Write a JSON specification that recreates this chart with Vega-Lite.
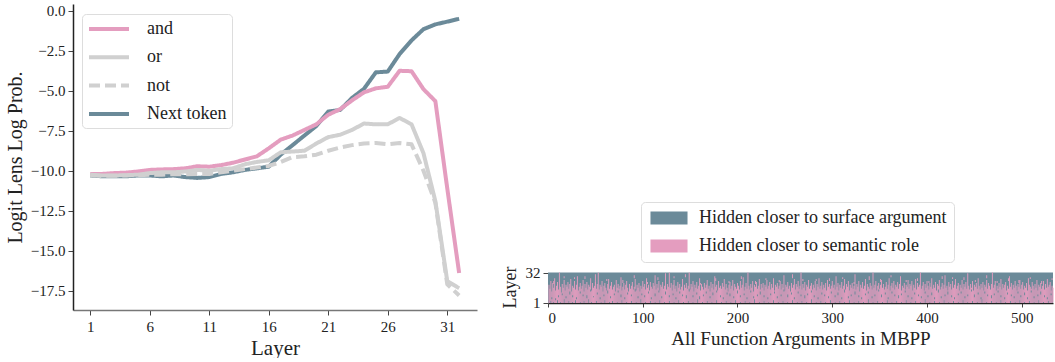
{
  "$schema": "https://vega.github.io/schema/vega-lite/v6.json",
  "background": "white",
  "padding": {"left": 5, "top": 3, "right": 0, "bottom": 0},
  "spacing": 24,
  "config": {
    "font": "Liberation Serif",
    "view": {"stroke": null},
    "axis": {"labelFont": "Liberation Serif", "titleFont": "Liberation Serif", "grid": false, "labelColor": "#222", "titleColor": "#222", "titleFontWeight": "normal", "tickColor": "#444"}
  },
  "resolve": {"scale": {"color": "independent"}, "legend": {"color": "independent"}},
  "datasets": {
    "lines": [
      {"layer":1,"s":"Next token","v":-10.3},{"layer":2,"s":"Next token","v":-10.35},{"layer":3,"s":"Next token","v":-10.35},{"layer":4,"s":"Next token","v":-10.35},{"layer":5,"s":"Next token","v":-10.3},{"layer":6,"s":"Next token","v":-10.3},{"layer":7,"s":"Next token","v":-10.35},{"layer":8,"s":"Next token","v":-10.3},{"layer":9,"s":"Next token","v":-10.4},{"layer":10,"s":"Next token","v":-10.45},{"layer":11,"s":"Next token","v":-10.4},{"layer":12,"s":"Next token","v":-10.2},{"layer":13,"s":"Next token","v":-10.1},{"layer":14,"s":"Next token","v":-9.95},{"layer":15,"s":"Next token","v":-9.85},{"layer":16,"s":"Next token","v":-9.75},{"layer":17,"s":"Next token","v":-9.0},{"layer":18,"s":"Next token","v":-8.4},{"layer":19,"s":"Next token","v":-7.8},{"layer":20,"s":"Next token","v":-7.2},{"layer":21,"s":"Next token","v":-6.3},{"layer":22,"s":"Next token","v":-6.2},{"layer":23,"s":"Next token","v":-5.45},{"layer":24,"s":"Next token","v":-4.88},{"layer":25,"s":"Next token","v":-3.85},{"layer":26,"s":"Next token","v":-3.8},{"layer":27,"s":"Next token","v":-2.7},{"layer":28,"s":"Next token","v":-1.85},{"layer":29,"s":"Next token","v":-1.15},{"layer":30,"s":"Next token","v":-0.85},{"layer":31,"s":"Next token","v":-0.68},{"layer":32,"s":"Next token","v":-0.5},
      {"layer":1,"s":"and","v":-10.2},{"layer":2,"s":"and","v":-10.2},{"layer":3,"s":"and","v":-10.15},{"layer":4,"s":"and","v":-10.12},{"layer":5,"s":"and","v":-10.05},{"layer":6,"s":"and","v":-9.95},{"layer":7,"s":"and","v":-9.92},{"layer":8,"s":"and","v":-9.9},{"layer":9,"s":"and","v":-9.85},{"layer":10,"s":"and","v":-9.72},{"layer":11,"s":"and","v":-9.75},{"layer":12,"s":"and","v":-9.65},{"layer":13,"s":"and","v":-9.5},{"layer":14,"s":"and","v":-9.3},{"layer":15,"s":"and","v":-9.1},{"layer":16,"s":"and","v":-8.6},{"layer":17,"s":"and","v":-8.06},{"layer":18,"s":"and","v":-7.8},{"layer":19,"s":"and","v":-7.45},{"layer":20,"s":"and","v":-7.1},{"layer":21,"s":"and","v":-6.5},{"layer":22,"s":"and","v":-6.15},{"layer":23,"s":"and","v":-5.6},{"layer":24,"s":"and","v":-5.1},{"layer":25,"s":"and","v":-4.85},{"layer":26,"s":"and","v":-4.75},{"layer":27,"s":"and","v":-3.75},{"layer":28,"s":"and","v":-3.78},{"layer":29,"s":"and","v":-4.9},{"layer":30,"s":"and","v":-5.65},{"layer":31,"s":"and","v":-11.1},{"layer":32,"s":"and","v":-16.4},
      {"layer":1,"s":"or","v":-10.25},{"layer":2,"s":"or","v":-10.3},{"layer":3,"s":"or","v":-10.3},{"layer":4,"s":"or","v":-10.28},{"layer":5,"s":"or","v":-10.25},{"layer":6,"s":"or","v":-10.15},{"layer":7,"s":"or","v":-10.1},{"layer":8,"s":"or","v":-10.1},{"layer":9,"s":"or","v":-10.05},{"layer":10,"s":"or","v":-9.95},{"layer":11,"s":"or","v":-10.0},{"layer":12,"s":"or","v":-9.9},{"layer":13,"s":"or","v":-9.85},{"layer":14,"s":"or","v":-9.6},{"layer":15,"s":"or","v":-9.45},{"layer":16,"s":"or","v":-9.35},{"layer":17,"s":"or","v":-8.85},{"layer":18,"s":"or","v":-8.8},{"layer":19,"s":"or","v":-8.75},{"layer":20,"s":"or","v":-8.3},{"layer":21,"s":"or","v":-7.9},{"layer":22,"s":"or","v":-7.75},{"layer":23,"s":"or","v":-7.45},{"layer":24,"s":"or","v":-7.05},{"layer":25,"s":"or","v":-7.1},{"layer":26,"s":"or","v":-7.1},{"layer":27,"s":"or","v":-6.7},{"layer":28,"s":"or","v":-7.1},{"layer":29,"s":"or","v":-8.9},{"layer":30,"s":"or","v":-11.9},{"layer":31,"s":"or","v":-16.9},{"layer":32,"s":"or","v":-17.35},
      {"layer":1,"s":"not","v":-10.3},{"layer":2,"s":"not","v":-10.32},{"layer":3,"s":"not","v":-10.32},{"layer":4,"s":"not","v":-10.3},{"layer":5,"s":"not","v":-10.28},{"layer":6,"s":"not","v":-10.25},{"layer":7,"s":"not","v":-10.25},{"layer":8,"s":"not","v":-10.22},{"layer":9,"s":"not","v":-10.22},{"layer":10,"s":"not","v":-10.2},{"layer":11,"s":"not","v":-10.2},{"layer":12,"s":"not","v":-10.1},{"layer":13,"s":"not","v":-10.0},{"layer":14,"s":"not","v":-9.9},{"layer":15,"s":"not","v":-9.8},{"layer":16,"s":"not","v":-9.7},{"layer":17,"s":"not","v":-9.46},{"layer":18,"s":"not","v":-9.15},{"layer":19,"s":"not","v":-9.1},{"layer":20,"s":"not","v":-9.0},{"layer":21,"s":"not","v":-8.75},{"layer":22,"s":"not","v":-8.55},{"layer":23,"s":"not","v":-8.4},{"layer":24,"s":"not","v":-8.3},{"layer":25,"s":"not","v":-8.27},{"layer":26,"s":"not","v":-8.35},{"layer":27,"s":"not","v":-8.27},{"layer":28,"s":"not","v":-8.35},{"layer":29,"s":"not","v":-10.0},{"layer":30,"s":"not","v":-12.0},{"layer":31,"s":"not","v":-17.1},{"layer":32,"s":"not","v":-17.8}
    ],
    "bg": [{"a0":0,"a1":533,"l0":0,"l1":32}],
    "sem": [
      {"a":0,"l":0,"h":19},{"a":1,"l":0,"h":15},{"a":2,"l":2,"h":23},{"a":3,"l":0,"h":12},{"a":4,"l":0,"h":21},{"a":5,"l":1,"h":16},{"a":6,"l":0,"h":26},{"a":7,"l":0,"h":13},{"a":8,"l":0,"h":18},{"a":9,"l":3,"h":22},
      {"a":10,"l":0,"h":14},{"a":11,"l":0,"h":32},{"a":12,"l":1,"h":17},{"a":13,"l":0,"h":11},{"a":14,"l":0,"h":20},{"a":15,"l":0,"h":16},{"a":16,"l":4,"h":24},{"a":17,"l":0,"h":13},{"a":18,"l":0,"h":19},{"a":19,"l":0,"h":17},
      {"a":20,"l":0,"h":22},{"a":21,"l":2,"h":15},{"a":22,"l":0,"h":20},{"a":23,"l":0,"h":25},{"a":24,"l":0,"h":12},{"a":25,"l":1,"h":18},{"a":26,"l":0,"h":16},{"a":27,"l":0,"h":23},{"a":28,"l":3,"h":14},{"a":29,"l":0,"h":19},
      {"a":30,"l":0,"h":28},{"a":31,"l":0,"h":13},{"a":32,"l":0,"h":17},{"a":33,"l":1,"h":21},{"a":34,"l":0,"h":15},{"a":35,"l":0,"h":18},{"a":36,"l":0,"h":24},{"a":37,"l":2,"h":12},{"a":38,"l":0,"h":20},{"a":39,"l":0,"h":16},
      {"a":40,"l":0,"h":22},{"a":41,"l":0,"h":14},{"a":42,"l":4,"h":19},{"a":43,"l":0,"h":17},{"a":44,"l":0,"h":26},{"a":45,"l":1,"h":13},{"a":46,"l":0,"h":21},{"a":47,"l":0,"h":16},{"a":48,"l":0,"h":18},{"a":49,"l":0,"h":30},
      {"a":50,"l":2,"h":15},{"a":51,"l":0,"h":20},{"a":52,"l":0,"h":32},{"a":53,"l":0,"h":14},{"a":54,"l":0,"h":19},{"a":55,"l":1,"h":17},{"a":56,"l":0,"h":23},{"a":57,"l":0,"h":12},{"a":58,"l":0,"h":18},{"a":59,"l":3,"h":21},
      {"a":60,"l":0,"h":16},{"a":61,"l":0,"h":13},{"a":62,"l":0,"h":20},{"a":63,"l":0,"h":25},{"a":64,"l":1,"h":15},{"a":65,"l":0,"h":18},{"a":66,"l":0,"h":22},{"a":67,"l":2,"h":14},{"a":68,"l":0,"h":17},{"a":69,"l":0,"h":19},
      {"a":70,"l":0,"h":12},{"a":71,"l":0,"h":24},{"a":72,"l":1,"h":16},{"a":73,"l":0,"h":20},{"a":74,"l":0,"h":15},{"a":75,"l":0,"h":18},{"a":76,"l":0,"h":27},{"a":77,"l":3,"h":13},{"a":78,"l":0,"h":17},{"a":79,"l":0,"h":21},
      {"a":80,"l":0,"h":14},{"a":81,"l":0,"h":19},{"a":82,"l":1,"h":23},{"a":83,"l":0,"h":16},{"a":84,"l":0,"h":12},{"a":85,"l":0,"h":20},{"a":86,"l":0,"h":15},{"a":87,"l":2,"h":18},{"a":88,"l":0,"h":22},{"a":89,"l":0,"h":14},
      {"a":90,"l":0,"h":17},{"a":91,"l":0,"h":25},{"a":92,"l":1,"h":13},{"a":93,"l":0,"h":19},{"a":94,"l":0,"h":16},{"a":95,"l":0,"h":21},{"a":96,"l":0,"h":12},{"a":97,"l":4,"h":18},{"a":98,"l":0,"h":15},{"a":99,"l":0,"h":23},
      {"a":100,"l":0,"h":17},{"a":101,"l":0,"h":20},{"a":102,"l":1,"h":14},{"a":103,"l":0,"h":26},{"a":104,"l":0,"h":16},{"a":105,"l":0,"h":19},{"a":106,"l":0,"h":13},{"a":107,"l":2,"h":22},{"a":108,"l":0,"h":17},{"a":109,"l":0,"h":15},
      {"a":110,"l":0,"h":21},{"a":111,"l":0,"h":18},{"a":112,"l":1,"h":29},{"a":113,"l":0,"h":14},{"a":114,"l":0,"h":20},{"a":115,"l":0,"h":16},{"a":116,"l":0,"h":23},{"a":117,"l":3,"h":13},{"a":118,"l":0,"h":19},{"a":119,"l":0,"h":17},
      {"a":120,"l":0,"h":22},{"a":121,"l":0,"h":15},{"a":122,"l":1,"h":18},{"a":123,"l":0,"h":31},{"a":124,"l":0,"h":14},{"a":125,"l":0,"h":20},{"a":126,"l":0,"h":17},{"a":127,"l":2,"h":32},{"a":128,"l":0,"h":16},{"a":129,"l":0,"h":21},
      {"a":130,"l":0,"h":13},{"a":131,"l":0,"h":19},{"a":132,"l":1,"h":24},{"a":133,"l":0,"h":15},{"a":134,"l":0,"h":18},{"a":135,"l":0,"h":12},{"a":136,"l":0,"h":22},{"a":137,"l":3,"h":16},{"a":138,"l":0,"h":20},{"a":139,"l":0,"h":14},
      {"a":140,"l":0,"h":17},{"a":141,"l":0,"h":25},{"a":142,"l":1,"h":13},{"a":143,"l":0,"h":19},{"a":144,"l":0,"h":16},{"a":145,"l":0,"h":21},{"a":146,"l":0,"h":15},{"a":147,"l":2,"h":18},{"a":148,"l":0,"h":32},{"a":149,"l":0,"h":14},
      {"a":150,"l":0,"h":20},{"a":151,"l":0,"h":17},{"a":152,"l":1,"h":23},{"a":153,"l":0,"h":12},{"a":154,"l":0,"h":19},{"a":155,"l":0,"h":16},{"a":156,"l":0,"h":22},{"a":157,"l":4,"h":15},{"a":158,"l":0,"h":18},{"a":159,"l":0,"h":26},
      {"a":160,"l":0,"h":13},{"a":161,"l":0,"h":20},{"a":162,"l":1,"h":17},{"a":163,"l":0,"h":14},{"a":164,"l":0,"h":21},{"a":165,"l":0,"h":16},{"a":166,"l":0,"h":19},{"a":167,"l":2,"h":24},{"a":168,"l":0,"h":15},{"a":169,"l":0,"h":18},
      {"a":170,"l":0,"h":12},{"a":171,"l":0,"h":22},{"a":172,"l":1,"h":16},{"a":173,"l":0,"h":20},{"a":174,"l":0,"h":14},{"a":175,"l":0,"h":28},{"a":176,"l":0,"h":17},{"a":177,"l":3,"h":19},{"a":178,"l":0,"h":13},{"a":179,"l":0,"h":23},
      {"a":180,"l":0,"h":16},{"a":181,"l":0,"h":18},{"a":182,"l":1,"h":15},{"a":183,"l":0,"h":21},{"a":184,"l":0,"h":17},{"a":185,"l":0,"h":25},{"a":186,"l":0,"h":14},{"a":187,"l":2,"h":20},{"a":188,"l":0,"h":16},{"a":189,"l":0,"h":12},
      {"a":190,"l":0,"h":19},{"a":191,"l":0,"h":22},{"a":192,"l":1,"h":15},{"a":193,"l":0,"h":18},{"a":194,"l":0,"h":24},{"a":195,"l":0,"h":13},{"a":196,"l":0,"h":20},{"a":197,"l":3,"h":17},{"a":198,"l":0,"h":15},{"a":199,"l":0,"h":21},
      {"a":200,"l":0,"h":18},{"a":201,"l":0,"h":14},{"a":202,"l":1,"h":23},{"a":203,"l":0,"h":16},{"a":204,"l":0,"h":19},{"a":205,"l":0,"h":27},{"a":206,"l":0,"h":13},{"a":207,"l":2,"h":17},{"a":208,"l":0,"h":21},{"a":209,"l":0,"h":15},
      {"a":210,"l":0,"h":32},{"a":211,"l":0,"h":18},{"a":212,"l":1,"h":14},{"a":213,"l":0,"h":20},{"a":214,"l":0,"h":16},{"a":215,"l":0,"h":23},{"a":216,"l":0,"h":12},{"a":217,"l":4,"h":19},{"a":218,"l":0,"h":17},{"a":219,"l":0,"h":22},
      {"a":220,"l":0,"h":15},{"a":221,"l":0,"h":18},{"a":222,"l":1,"h":25},{"a":223,"l":0,"h":14},{"a":224,"l":0,"h":20},{"a":225,"l":0,"h":16},{"a":226,"l":0,"h":21},{"a":227,"l":2,"h":13},{"a":228,"l":0,"h":19},{"a":229,"l":0,"h":17},
      {"a":230,"l":0,"h":24},{"a":231,"l":0,"h":15},{"a":232,"l":1,"h":18},{"a":233,"l":0,"h":22},{"a":234,"l":0,"h":14},{"a":235,"l":0,"h":20},{"a":236,"l":0,"h":16},{"a":237,"l":3,"h":26},{"a":238,"l":0,"h":13},{"a":239,"l":0,"h":19},
      {"a":240,"l":0,"h":17},{"a":241,"l":0,"h":21},{"a":242,"l":1,"h":15},{"a":243,"l":0,"h":18},{"a":244,"l":0,"h":23},{"a":245,"l":0,"h":14},{"a":246,"l":0,"h":20},{"a":247,"l":2,"h":16},{"a":248,"l":0,"h":29},{"a":249,"l":0,"h":13},
      {"a":250,"l":0,"h":19},{"a":251,"l":0,"h":17},{"a":252,"l":1,"h":22},{"a":253,"l":0,"h":15},{"a":254,"l":0,"h":18},{"a":255,"l":0,"h":12},{"a":256,"l":0,"h":21},{"a":257,"l":3,"h":16},{"a":258,"l":0,"h":19},{"a":259,"l":0,"h":25},
      {"a":260,"l":0,"h":14},{"a":261,"l":0,"h":20},{"a":262,"l":1,"h":17},{"a":263,"l":0,"h":23},{"a":264,"l":0,"h":15},{"a":265,"l":0,"h":18},{"a":266,"l":0,"h":32},{"a":267,"l":2,"h":14},{"a":268,"l":0,"h":20},{"a":269,"l":0,"h":16},
      {"a":270,"l":0,"h":22},{"a":271,"l":0,"h":13},{"a":272,"l":1,"h":19},{"a":273,"l":0,"h":17},{"a":274,"l":0,"h":24},{"a":275,"l":0,"h":15},{"a":276,"l":0,"h":18},{"a":277,"l":4,"h":21},{"a":278,"l":0,"h":14},{"a":279,"l":0,"h":19},
      {"a":280,"l":0,"h":16},{"a":281,"l":0,"h":23},{"a":282,"l":1,"h":13},{"a":283,"l":0,"h":20},{"a":284,"l":0,"h":17},{"a":285,"l":0,"h":26},{"a":286,"l":0,"h":15},{"a":287,"l":2,"h":18},{"a":288,"l":0,"h":22},{"a":289,"l":0,"h":14},
      {"a":290,"l":0,"h":19},{"a":291,"l":0,"h":16},{"a":292,"l":1,"h":21},{"a":293,"l":0,"h":13},{"a":294,"l":0,"h":24},{"a":295,"l":0,"h":17},{"a":296,"l":0,"h":20},{"a":297,"l":3,"h":15},{"a":298,"l":0,"h":18},{"a":299,"l":0,"h":23},
      {"a":300,"l":0,"h":16},{"a":301,"l":0,"h":19},{"a":302,"l":1,"h":14},{"a":303,"l":0,"h":28},{"a":304,"l":0,"h":17},{"a":305,"l":0,"h":21},{"a":306,"l":0,"h":13},{"a":307,"l":2,"h":19},{"a":308,"l":0,"h":16},{"a":309,"l":0,"h":22},
      {"a":310,"l":0,"h":15},{"a":311,"l":0,"h":18},{"a":312,"l":1,"h":25},{"a":313,"l":0,"h":14},{"a":314,"l":0,"h":20},{"a":315,"l":0,"h":17},{"a":316,"l":0,"h":23},{"a":317,"l":3,"h":13},{"a":318,"l":0,"h":19},{"a":319,"l":0,"h":16},
      {"a":320,"l":0,"h":21},{"a":321,"l":0,"h":15},{"a":322,"l":1,"h":18},{"a":323,"l":0,"h":30},{"a":324,"l":0,"h":14},{"a":325,"l":0,"h":20},{"a":326,"l":0,"h":17},{"a":327,"l":2,"h":23},{"a":328,"l":0,"h":12},{"a":329,"l":0,"h":19},
      {"a":330,"l":0,"h":16},{"a":331,"l":0,"h":22},{"a":332,"l":1,"h":15},{"a":333,"l":0,"h":18},{"a":334,"l":0,"h":25},{"a":335,"l":0,"h":13},{"a":336,"l":0,"h":20},{"a":337,"l":4,"h":17},{"a":338,"l":0,"h":15},{"a":339,"l":0,"h":21},
      {"a":340,"l":0,"h":18},{"a":341,"l":0,"h":14},{"a":342,"l":1,"h":32},{"a":343,"l":0,"h":16},{"a":344,"l":0,"h":19},{"a":345,"l":0,"h":23},{"a":346,"l":0,"h":13},{"a":347,"l":2,"h":18},{"a":348,"l":0,"h":21},{"a":349,"l":0,"h":15},
      {"a":350,"l":0,"h":19},{"a":351,"l":0,"h":24},{"a":352,"l":1,"h":16},{"a":353,"l":0,"h":20},{"a":354,"l":0,"h":14},{"a":355,"l":0,"h":17},{"a":356,"l":0,"h":22},{"a":357,"l":3,"h":15},{"a":358,"l":0,"h":19},{"a":359,"l":0,"h":26},
      {"a":360,"l":0,"h":13},{"a":361,"l":0,"h":18},{"a":362,"l":1,"h":21},{"a":363,"l":0,"h":16},{"a":364,"l":0,"h":23},{"a":365,"l":0,"h":14},{"a":366,"l":0,"h":19},{"a":367,"l":2,"h":17},{"a":368,"l":0,"h":22},{"a":369,"l":0,"h":15},
      {"a":370,"l":0,"h":20},{"a":371,"l":0,"h":28},{"a":372,"l":1,"h":13},{"a":373,"l":0,"h":18},{"a":374,"l":0,"h":16},{"a":375,"l":0,"h":21},{"a":376,"l":0,"h":14},{"a":377,"l":3,"h":19},{"a":378,"l":0,"h":17},{"a":379,"l":0,"h":24},
      {"a":380,"l":0,"h":15},{"a":381,"l":0,"h":20},{"a":382,"l":1,"h":18},{"a":383,"l":0,"h":23},{"a":384,"l":0,"h":13},{"a":385,"l":0,"h":19},{"a":386,"l":0,"h":16},{"a":387,"l":2,"h":25},{"a":388,"l":0,"h":14},{"a":389,"l":0,"h":21},
      {"a":390,"l":0,"h":17},{"a":391,"l":0,"h":19},{"a":392,"l":1,"h":32},{"a":393,"l":0,"h":15},{"a":394,"l":0,"h":18},{"a":395,"l":0,"h":22},{"a":396,"l":0,"h":13},{"a":397,"l":4,"h":20},{"a":398,"l":0,"h":16},{"a":399,"l":0,"h":23},
      {"a":400,"l":0,"h":18},{"a":401,"l":0,"h":14},{"a":402,"l":1,"h":21},{"a":403,"l":0,"h":17},{"a":404,"l":0,"h":26},{"a":405,"l":0,"h":15},{"a":406,"l":0,"h":19},{"a":407,"l":2,"h":16},{"a":408,"l":0,"h":22},{"a":409,"l":0,"h":13},
      {"a":410,"l":0,"h":20},{"a":411,"l":0,"h":18},{"a":412,"l":1,"h":24},{"a":413,"l":0,"h":14},{"a":414,"l":0,"h":17},{"a":415,"l":0,"h":21},{"a":416,"l":0,"h":15},{"a":417,"l":3,"h":19},{"a":418,"l":0,"h":29},{"a":419,"l":0,"h":16},
      {"a":420,"l":0,"h":18},{"a":421,"l":0,"h":13},{"a":422,"l":1,"h":22},{"a":423,"l":0,"h":17},{"a":424,"l":0,"h":20},{"a":425,"l":0,"h":14},{"a":426,"l":0,"h":23},{"a":427,"l":2,"h":16},{"a":428,"l":0,"h":19},{"a":429,"l":0,"h":25},
      {"a":430,"l":0,"h":15},{"a":431,"l":0,"h":18},{"a":432,"l":1,"h":21},{"a":433,"l":0,"h":13},{"a":434,"l":0,"h":19},{"a":435,"l":0,"h":16},{"a":436,"l":0,"h":24},{"a":437,"l":3,"h":14},{"a":438,"l":0,"h":20},{"a":439,"l":0,"h":17},
      {"a":440,"l":0,"h":22},{"a":441,"l":0,"h":15},{"a":442,"l":1,"h":31},{"a":443,"l":0,"h":18},{"a":444,"l":0,"h":14},{"a":445,"l":0,"h":20},{"a":446,"l":0,"h":16},{"a":447,"l":2,"h":23},{"a":448,"l":0,"h":13},{"a":449,"l":0,"h":19},
      {"a":450,"l":0,"h":17},{"a":451,"l":0,"h":21},{"a":452,"l":1,"h":15},{"a":453,"l":0,"h":26},{"a":454,"l":0,"h":18},{"a":455,"l":0,"h":14},{"a":456,"l":0,"h":20},{"a":457,"l":4,"h":16},{"a":458,"l":0,"h":22},{"a":459,"l":0,"h":13},
      {"a":460,"l":0,"h":19},{"a":461,"l":0,"h":17},{"a":462,"l":1,"h":24},{"a":463,"l":0,"h":15},{"a":464,"l":0,"h":21},{"a":465,"l":0,"h":18},{"a":466,"l":0,"h":14},{"a":467,"l":2,"h":20},{"a":468,"l":0,"h":32},{"a":469,"l":0,"h":16},
      {"a":470,"l":0,"h":19},{"a":471,"l":0,"h":23},{"a":472,"l":1,"h":13},{"a":473,"l":0,"h":18},{"a":474,"l":0,"h":15},{"a":475,"l":0,"h":21},{"a":476,"l":0,"h":17},{"a":477,"l":3,"h":25},{"a":478,"l":0,"h":14},{"a":479,"l":0,"h":20},
      {"a":480,"l":0,"h":16},{"a":481,"l":0,"h":19},{"a":482,"l":1,"h":22},{"a":483,"l":0,"h":13},{"a":484,"l":0,"h":18},{"a":485,"l":0,"h":15},{"a":486,"l":0,"h":28},{"a":487,"l":2,"h":17},{"a":488,"l":0,"h":21},{"a":489,"l":0,"h":14},
      {"a":490,"l":0,"h":19},{"a":491,"l":0,"h":16},{"a":492,"l":1,"h":23},{"a":493,"l":0,"h":18},{"a":494,"l":0,"h":13},{"a":495,"l":0,"h":20},{"a":496,"l":0,"h":17},{"a":497,"l":3,"h":24},{"a":498,"l":0,"h":15},{"a":499,"l":0,"h":19},
      {"a":500,"l":0,"h":22},{"a":501,"l":0,"h":14},{"a":502,"l":1,"h":18},{"a":503,"l":0,"h":16},{"a":504,"l":0,"h":21},{"a":505,"l":0,"h":13},{"a":506,"l":0,"h":26},{"a":507,"l":2,"h":19},{"a":508,"l":0,"h":17},{"a":509,"l":0,"h":15},
      {"a":510,"l":0,"h":22},{"a":511,"l":0,"h":18},{"a":512,"l":1,"h":14},{"a":513,"l":0,"h":20},{"a":514,"l":0,"h":16},{"a":515,"l":0,"h":24},{"a":516,"l":0,"h":13},{"a":517,"l":3,"h":19},{"a":518,"l":0,"h":17},{"a":519,"l":0,"h":21},
      {"a":520,"l":0,"h":15},{"a":521,"l":0,"h":18},{"a":522,"l":1,"h":23},{"a":523,"l":0,"h":14},{"a":524,"l":0,"h":20},{"a":525,"l":0,"h":16},{"a":526,"l":0,"h":25},{"a":527,"l":2,"h":17},{"a":528,"l":0,"h":19},{"a":529,"l":0,"h":22},
      {"a":530,"l":0,"h":13},{"a":531,"l":0,"h":18},{"a":532,"l":1,"h":16},
      {"a":5,"l":20,"h":23},{"a":16,"l":26,"h":28},{"a":27,"l":25,"h":27},{"a":38,"l":25,"h":28},{"a":49,"l":19,"h":22},{"a":61,"l":23,"h":25},{"a":78,"l":21,"h":24},{"a":90,"l":26,"h":29},{"a":104,"l":20,"h":22},{"a":115,"l":24,"h":27},
      {"a":132,"l":26,"h":28},{"a":144,"l":27,"h":30},{"a":160,"l":19,"h":21},{"a":176,"l":23,"h":26},{"a":190,"l":21,"h":23},{"a":203,"l":25,"h":28},{"a":218,"l":20,"h":23},{"a":229,"l":24,"h":26},{"a":243,"l":22,"h":24},{"a":257,"l":26,"h":30},
      {"a":268,"l":23,"h":25},{"a":282,"l":23,"h":25},{"a":296,"l":23,"h":26},{"a":310,"l":25,"h":27},{"a":322,"l":20,"h":22},{"a":338,"l":24,"h":28},{"a":350,"l":22,"h":25},{"a":361,"l":27,"h":29},{"a":377,"l":22,"h":24},{"a":389,"l":23,"h":26},
      {"a":401,"l":21,"h":23},{"a":415,"l":25,"h":28},{"a":426,"l":25,"h":27},{"a":438,"l":24,"h":27},{"a":450,"l":22,"h":24},{"a":462,"l":26,"h":29},{"a":473,"l":21,"h":23},{"a":485,"l":23,"h":26},{"a":496,"l":21,"h":24},{"a":508,"l":25,"h":27},{"a":520,"l":20,"h":23},{"a":531,"l":24,"h":26}
    ],
    "gap": [
      {"a":3,"l":4,"h":6},{"a":7,"l":3,"h":5},{"a":10,"l":6,"h":8},{"a":14,"l":8,"h":10},{"a":18,"l":5,"h":7},{"a":22,"l":9,"h":12},{"a":25,"l":6,"h":8},{"a":29,"l":4,"h":6},{"a":33,"l":10,"h":12},{"a":36,"l":7,"h":9},
      {"a":40,"l":5,"h":8},{"a":44,"l":12,"h":14},{"a":47,"l":6,"h":7},{"a":51,"l":9,"h":11},{"a":54,"l":4,"h":6},{"a":58,"l":7,"h":9},{"a":62,"l":10,"h":13},{"a":65,"l":5,"h":7},{"a":69,"l":8,"h":10},{"a":73,"l":11,"h":13},
      {"a":76,"l":6,"h":9},{"a":80,"l":4,"h":6},{"a":83,"l":9,"h":11},{"a":87,"l":7,"h":9},{"a":91,"l":12,"h":15},{"a":94,"l":5,"h":7},{"a":98,"l":8,"h":10},{"a":101,"l":6,"h":8},{"a":105,"l":10,"h":12},{"a":108,"l":4,"h":6},
      {"a":112,"l":7,"h":10},{"a":116,"l":11,"h":13},{"a":119,"l":5,"h":7},{"a":123,"l":9,"h":12},{"a":127,"l":6,"h":8},{"a":131,"l":8,"h":10},{"a":134,"l":4,"h":6},{"a":138,"l":10,"h":12},{"a":141,"l":7,"h":9},{"a":145,"l":5,"h":8},
      {"a":148,"l":12,"h":15},{"a":152,"l":6,"h":8},{"a":156,"l":9,"h":11},{"a":159,"l":4,"h":7},{"a":163,"l":7,"h":9},{"a":166,"l":10,"h":12},{"a":170,"l":5,"h":7},{"a":173,"l":8,"h":11},{"a":177,"l":11,"h":13},{"a":181,"l":6,"h":8},
      {"a":184,"l":4,"h":6},{"a":188,"l":9,"h":11},{"a":191,"l":7,"h":10},{"a":195,"l":5,"h":7},{"a":199,"l":10,"h":13},{"a":202,"l":6,"h":8},{"a":206,"l":8,"h":10},{"a":209,"l":4,"h":6},{"a":213,"l":11,"h":13},{"a":216,"l":5,"h":7},
      {"a":220,"l":7,"h":9},{"a":223,"l":9,"h":12},{"a":227,"l":6,"h":8},{"a":231,"l":4,"h":6},{"a":234,"l":8,"h":10},{"a":238,"l":10,"h":12},{"a":241,"l":5,"h":7},{"a":245,"l":7,"h":9},{"a":248,"l":12,"h":14},{"a":252,"l":6,"h":9},
      {"a":256,"l":9,"h":11},{"a":259,"l":4,"h":6},{"a":263,"l":10,"h":12},{"a":266,"l":7,"h":9},{"a":270,"l":5,"h":8},{"a":273,"l":8,"h":10},{"a":277,"l":11,"h":13},{"a":280,"l":6,"h":8},{"a":284,"l":4,"h":6},{"a":288,"l":9,"h":11},
      {"a":291,"l":7,"h":9},{"a":295,"l":5,"h":7},{"a":298,"l":10,"h":12},{"a":302,"l":6,"h":8},{"a":305,"l":8,"h":11},{"a":309,"l":4,"h":6},{"a":312,"l":11,"h":14},{"a":316,"l":5,"h":7},{"a":319,"l":7,"h":9},{"a":323,"l":9,"h":12},
      {"a":327,"l":6,"h":8},{"a":330,"l":4,"h":6},{"a":334,"l":8,"h":10},{"a":337,"l":10,"h":12},{"a":341,"l":5,"h":7},{"a":344,"l":7,"h":9},{"a":348,"l":12,"h":14},{"a":351,"l":6,"h":9},{"a":355,"l":9,"h":11},{"a":358,"l":4,"h":6},
      {"a":362,"l":10,"h":12},{"a":365,"l":7,"h":9},{"a":369,"l":5,"h":8},{"a":372,"l":8,"h":10},{"a":376,"l":11,"h":13},{"a":379,"l":6,"h":8},{"a":383,"l":4,"h":6},{"a":386,"l":9,"h":11},{"a":390,"l":7,"h":9},{"a":393,"l":5,"h":7},
      {"a":397,"l":10,"h":12},{"a":400,"l":6,"h":8},{"a":404,"l":8,"h":11},{"a":407,"l":4,"h":6},{"a":411,"l":11,"h":14},{"a":414,"l":5,"h":7},{"a":418,"l":7,"h":9},{"a":421,"l":9,"h":12},{"a":425,"l":6,"h":8},{"a":428,"l":4,"h":6},
      {"a":432,"l":8,"h":10},{"a":435,"l":10,"h":12},{"a":439,"l":5,"h":7},{"a":442,"l":7,"h":9},{"a":446,"l":12,"h":14},{"a":449,"l":6,"h":9},{"a":453,"l":9,"h":11},{"a":456,"l":4,"h":6},{"a":460,"l":10,"h":12},{"a":463,"l":7,"h":9},
      {"a":467,"l":5,"h":8},{"a":470,"l":8,"h":10},{"a":474,"l":11,"h":13},{"a":477,"l":6,"h":8},{"a":481,"l":4,"h":6},{"a":484,"l":9,"h":11},{"a":488,"l":7,"h":9},{"a":491,"l":5,"h":7},{"a":495,"l":10,"h":12},{"a":498,"l":6,"h":8},
      {"a":502,"l":8,"h":11},{"a":505,"l":4,"h":6},{"a":509,"l":11,"h":13},{"a":512,"l":5,"h":7},{"a":516,"l":7,"h":9},{"a":519,"l":9,"h":12},{"a":523,"l":6,"h":8},{"a":526,"l":4,"h":6},{"a":530,"l":8,"h":10}
    ]
  },
  "hconcat": [
    {
      "width": 404,
      "height": 306,
      "data": {"name": "lines"},
      "mark": {"type": "line", "strokeWidth": 4, "strokeJoin": "round"},
      "encoding": {
        "x": {"field": "layer", "type": "quantitative",
          "scale": {"domain": [-0.45, 33.5], "nice": false, "zero": false},
          "axis": {"values": [1, 6, 11, 16, 21, 26, 31], "title": "Layer", "titleFontSize": 21, "labelFontSize": 15, "tickSize": 5, "labelPadding": 4, "titlePadding": 3, "domainColor": "#777", "domainWidth": 1.5}},
        "y": {"field": "v", "type": "quantitative",
          "scale": {"domain": [-18.71, 0.425], "nice": false, "zero": false},
          "axis": {"values": [0, -2.5, -5, -7.5, -10, -12.5, -15, -17.5], "format": ".1f", "title": "Logit Lens Log Prob.", "titleFontSize": 20, "labelFontSize": 15, "tickSize": 5, "labelPadding": 3, "titlePadding": 5, "domainColor": "#222", "domainWidth": 1.5}},
        "color": {"field": "s", "type": "nominal",
          "scale": {"domain": ["and", "or", "not", "Next token"], "range": ["#e49dbf", "#d0d0d0", "#d0d0d0", "#6b8a99"]},
          "legend": {"orient": "none", "legendX": 9, "legendY": 10, "title": null, "symbolType": "M-2.5,0H2.5", "symbolSize": 256, "symbolStrokeWidth": 4, "symbolOffset": 12, "labelFontSize": 18, "labelFont": "Liberation Serif", "labelColor": "#222", "labelOffset": 28, "labelLimit": 300, "padding": 5, "rowPadding": 9.3, "strokeColor": "#dddddd", "fillColor": "white", "cornerRadius": 4,
            "encode": {"symbols": {"update": {"strokeDash": {"signal": "datum.value === 'not' ? [11, 5] : [1, 0]"}}}}}},
        "strokeDash": {"field": "s", "type": "nominal",
          "scale": {"domain": ["and", "or", "not", "Next token"], "range": [[1, 0], [1, 0], [11, 5], [1, 0]]},
          "legend": null}
      }
    },
    {
      "width": 505,
      "height": 299,
      "layer": [
        {
          "data": {"name": "bg"},
          "mark": {"type": "rect"},
          "encoding": {
            "x": {"field": "a0", "type": "quantitative", "scale": {"domain": [0, 533], "nice": false, "zero": false},
              "axis": {"values": [0, 100, 200, 300, 400, 500], "title": "All Function Arguments in MBPP", "titleFontSize": 19, "labelFontSize": 15, "tickSize": 4, "labelPadding": 3, "titlePadding": 4, "domainColor": "#222", "domainWidth": 1.5}},
            "x2": {"field": "a1"},
            "y": {"field": "l0", "type": "quantitative", "scale": {"domain": [0, 312.7], "nice": false, "zero": false},
              "axis": {"values": [0.5, 31.5], "labelExpr": "datum.value < 1 ? '1' : '32'", "title": "Layer", "titleY": 283, "titleFontSize": 18, "labelFontSize": 15, "tickSize": 5, "labelPadding": 3, "titlePadding": 6, "domain": false}},
            "y2": {"field": "l1"},
            "color": {"datum": "Hidden closer to surface argument", "type": "nominal",
              "scale": {"domain": ["Hidden closer to surface argument", "Hidden closer to semantic role"], "range": ["#6b8a99", "#e49dbf"]},
              "legend": {"orient": "none", "legendX": 93, "legendY": 198, "direction": "vertical", "title": null, "symbolType": "M-2.85,-1H2.85V1H-2.85Z", "symbolSize": 169, "symbolStrokeWidth": 0, "symbolOffset": 12, "labelFontSize": 18, "labelFont": "Liberation Serif", "labelColor": "#222", "labelOffset": 21, "labelLimit": 400, "padding": 7, "rowPadding": 10, "strokeColor": "#dddddd", "fillColor": "white", "cornerRadius": 4}}
          }
        },
        {
          "data": {"name": "sem"},
          "mark": {"type": "rect"},
          "encoding": {
            "x": {"field": "a", "type": "quantitative", "bin": {"step": 1, "extent": [0, 533]}},
            "y": {"field": "l", "type": "quantitative"},
            "y2": {"field": "h"},
            "color": {"datum": "Hidden closer to semantic role", "type": "nominal"}
          }
        },
        {
          "data": {"name": "gap"},
          "mark": {"type": "rect"},
          "encoding": {
            "x": {"field": "a", "type": "quantitative", "bin": {"step": 1, "extent": [0, 533]}},
            "y": {"field": "l", "type": "quantitative"},
            "y2": {"field": "h"},
            "color": {"datum": "Hidden closer to surface argument", "type": "nominal"}
          }
        },
        {
          "mark": {"type": "rule", "color": "#888888", "strokeWidth": 2},
          "encoding": {"y": {"datum": 32, "type": "quantitative"}}
        }
      ]
    }
  ]
}
